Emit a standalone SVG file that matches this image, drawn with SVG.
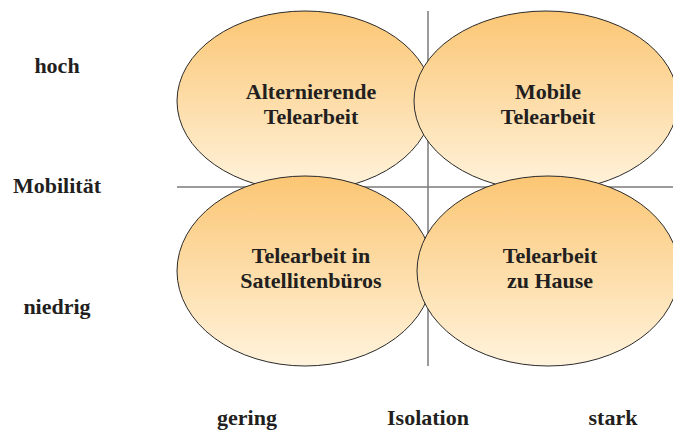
<svg xmlns="http://www.w3.org/2000/svg" width="673" height="430" viewBox="0 0 673 430">
  <defs>
    <linearGradient id="fillGrad" x1="0" y1="0" x2="0" y2="1">
      <stop offset="0" stop-color="#fbc674"/>
      <stop offset="1" stop-color="#fff3dc"/>
    </linearGradient>
    <style>
      .axis { stroke: #7a7a7a; stroke-width: 1.5; fill: none; }
      .cell { fill: url(#fillGrad); stroke: #2a2a2a; stroke-width: 1; }
      text { font-family: "Liberation Serif", "DejaVu Serif", serif; font-weight: bold; font-size: 22px; fill: #231f20; text-anchor: middle; }
    </style>
  </defs>
  <rect width="673" height="430" fill="#ffffff"/>

  <!-- axes -->
  <g id="axes">
    <line class="axis" x1="428" y1="11" x2="428" y2="366"/>
    <line class="axis" x1="177" y1="187" x2="673" y2="187"/>
  </g>

  <g id="alternierende">
    <ellipse class="cell" cx="305" cy="101" rx="128" ry="90"/>
    <text x="311" y="99">Alternierende</text>
    <text x="311" y="124">Telearbeit</text>
  </g>
  <g id="mobile">
    <ellipse class="cell" cx="546" cy="101" rx="132" ry="90"/>
    <text x="548" y="99">Mobile</text>
    <text x="548" y="124">Telearbeit</text>
  </g>
  <g id="satellit">
    <ellipse class="cell" cx="305" cy="271" rx="128" ry="95"/>
    <text x="311" y="263">Telearbeit in</text>
    <text x="311" y="288">Satellitenbüros</text>
  </g>
  <g id="zuhause">
    <ellipse class="cell" cx="548" cy="271" rx="131" ry="95"/>
    <text x="550" y="263">Telearbeit</text>
    <text x="550" y="288">zu Hause</text>
  </g>

  <!-- axis labels -->
  <g id="labels">
    <text x="57" y="73">hoch</text>
    <text x="57" y="193">Mobilität</text>
    <text x="57" y="314">niedrig</text>
    <text x="247" y="425">gering</text>
    <text x="428" y="425">Isolation</text>
    <text x="613" y="425">stark</text>
  </g>
</svg>
